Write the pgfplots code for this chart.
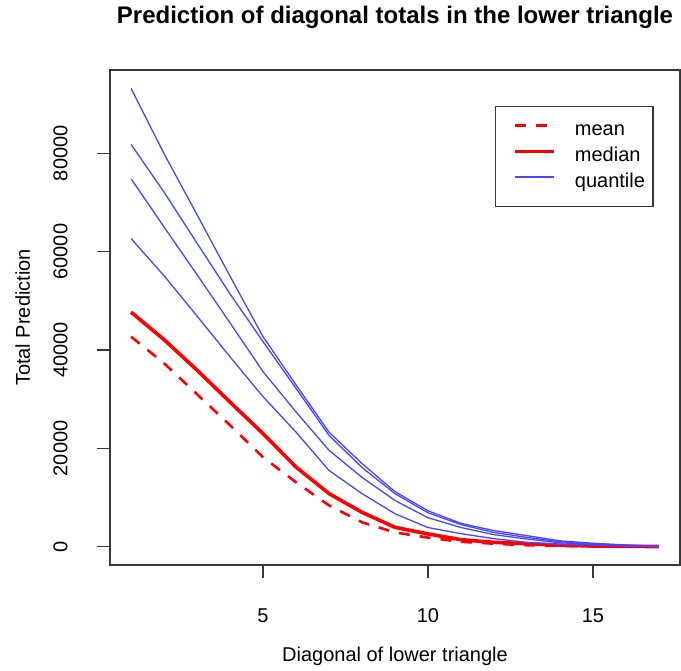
\documentclass[border=0pt]{standalone}
\usepackage{fontspec}
\setmainfont{Liberation Sans}
\usepackage{pgfplots}
\usepackage{pgfplotstable}
\pgfplotsset{compat=1.18}
\definecolor{qblue}{RGB}{70,70,255}
\definecolor{frame}{RGB}{55,55,55}
\pgfplotstableread{
x q1 q2 q3 q4 med mean
1 93200 81800 74800 62650 47700 42700
2 79900 72100 65000 55100 42100 37300
3 67500 61700 55300 46900 35900 31000
4 55000 51400 45500 38600 29400 24700
5 42700 41700 35600 30500 23000 18200
6 32900 32200 27400 23300 16200 13100
7 23300 22650 19600 15500 10800 8400
8 16900 16100 14100 10800 7000 4960
9 11200 10800 9400 6700 3940 2900
10 7300 6900 5900 3900 2600 1850
11 4750 4500 3900 2650 1430 1000
12 3270 2900 2450 1630 880 610
13 2250 1900 1570 880 610 300
14 1200 1000 800 500 300 150
15 700 600 450 300 150 80
16 350 300 250 150 80 50
17 100 90 70 50 30 20
}\datatable
\begin{document}
\begin{tikzpicture}
\begin{axis}[
  scale only axis, width=570bp, height=495bp,
  xmin=0.36, xmax=17.64, ymin=-3721, ymax=96940,
  axis line style={frame, line width=1.3bp},
  xtick={5,10,15}, ytick={0,20000,40000,60000,80000},
  scaled y ticks=false,
  yticklabel style={/pgf/number format/1000 sep={}, /pgf/number format/fixed},
  /pgf/number format/assume math mode=true,
  tick align=outside, xtick pos=bottom, ytick pos=left,
  major tick length=12.5bp,
  every tick/.style={frame, line width=1.3bp},
  tick label style={font=\fontsize{20bp}{24bp}\selectfont},
  xticklabel style={anchor=base, yshift=-45bp},
  yticklabel style={anchor=base, xshift=-30bp, rotate=90},
  title={Prediction of diagonal totals in the lower triangle},
  title style={at={(0.5,1)}, anchor=base, yshift=41bp, font=\bfseries\fontsize{24bp}{28bp}\selectfont},
  xlabel={Diagonal of lower triangle},
  xlabel style={at={(0.5,0)}, anchor=base, yshift=-96bp, font=\fontsize{20bp}{24bp}\selectfont},
  ylabel={Total Prediction},
  ylabel style={at={(0,0.5)}, anchor=base, yshift=80bp, font=\fontsize{20bp}{24bp}\selectfont},
  legend cell align=left,
  legend image code/.code={\path (0bp,0bp) (49bp,0bp); \draw[#1] (10bp,5bp) -- (49bp,5bp);},
  legend style={at={(0.6754,0.9279)}, anchor=north west, draw=frame, line width=1.3bp,
    inner xsep=8bp, inner ysep=15.3bp, row sep=7.7bp, column sep=18.7bp,
    font=\fontsize{20bp}{24bp}\selectfont,
    nodes={inner sep=0pt, text height=14bp, text depth=4bp, anchor=west}},
]
\addplot[red, line width=2.6bp, dash pattern=on 11bp off 10bp] table[x=x,y=mean]{\datatable};
\addlegendentry{mean}
\addplot[red, line width=3.6bp] table[x=x,y=med]{\datatable};
\addlegendentry{median}
\addplot[qblue, line width=1.3bp] table[x=x,y=q1]{\datatable};
\addlegendentry{quantile}
\addplot[qblue, line width=1.3bp, forget plot] table[x=x,y=q2]{\datatable};
\addplot[qblue, line width=1.3bp, forget plot] table[x=x,y=q3]{\datatable};
\addplot[qblue, line width=1.3bp, forget plot] table[x=x,y=q4]{\datatable};
\end{axis}
\pgfresetboundingbox
\path[use as bounding box] ([xshift=-110bp, yshift=-106bp]current axis.south west) rectangle ([xshift=1bp, yshift=70bp]current axis.north east);
\end{tikzpicture}
\end{document}
